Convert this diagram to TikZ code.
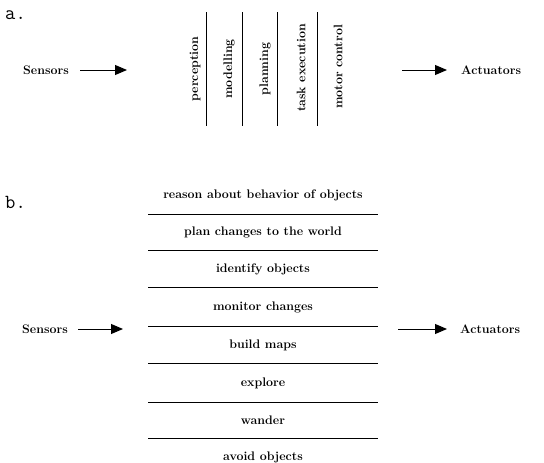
\documentclass[tikz,border=0pt]{standalone}
\usetikzlibrary{arrows.meta}
\begin{document}
\begin{tikzpicture}[x=1pt,y=-1pt,
  lbl/.style={font=\fontsize{12.4}{14}\selectfont\bfseries, inner sep=0pt},
  vlbl/.style={lbl, rotate=90},
  tag/.style={font=\fontsize{20}{22}\selectfont\ttfamily, inner sep=0pt, anchor=west},
  sep/.style={line width=0.9pt},
  flow/.style={line width=1pt, -{Triangle[length=12pt,width=10pt]}}]
\useasboundingbox (0,0) rectangle (544,463);
% ---------- part a ----------
\node[tag] (ta) at (5,15) {a.};
\node[lbl, anchor=west] (sa) at (23,70) {Sensors};
\coordinate (sae) at (127,70);
\draw[flow] (80,70) -- (sae);
\coordinate (aas) at (402,70);
\node[lbl, anchor=west] (aa) at (461,70) {Actuators};
\draw[flow] (aas) -- (aa.west -| 447,70);
\node[vlbl] (p1) at (195,69) {perception};
\node[vlbl] (p2) at (229,69) {modelling};
\node[vlbl] (p3) at (265,69) {planning};
\node[vlbl] (p4) at (301,68) {task execution};
\node[vlbl] (p5) at (338,67) {motor control};
\foreach \x/\n in {206/v1,242/v2,277/v3,317/v4}{
  \coordinate (\n t) at (\x,12);
  \coordinate (\n b) at (\x,126);
  \draw[sep] (\n t) -- (\n b);
}
% ---------- part b ----------
\node[tag] (tb) at (5,202) {b.};
\node[lbl] (l1) at (263,195) {reason about behavior of objects};
\node[lbl] (l2) at (263,232) {plan changes to the world};
\node[lbl] (l3) at (263,269) {identify objects};
\node[lbl] (l4) at (263,307) {monitor changes};
\node[lbl] (l5) at (263,345) {build maps};
\node[lbl] (l6) at (263,383) {explore};
\node[lbl] (l7) at (263,420) {wander};
\node[lbl] (l8) at (263,457) {avoid objects};
\foreach \y/\n in {214/h1,250/h2,287/h3,326/h4,363/h5,402/h6,438/h7}{
  \coordinate (\n l) at (148,\y);
  \coordinate (\n r) at (378,\y);
  \draw[sep] (\n l) -- (\n r);
}
\node[lbl, anchor=west] (sb) at (22,329) {Sensors};
\coordinate (sbe) at (123,329);
\draw[flow] (78,329) -- (sbe);
\coordinate (abs) at (398,329);
\node[lbl, anchor=west] (ab) at (460,329) {Actuators};
\draw[flow] (abs) -- (447,329);
\end{tikzpicture}
\end{document}
